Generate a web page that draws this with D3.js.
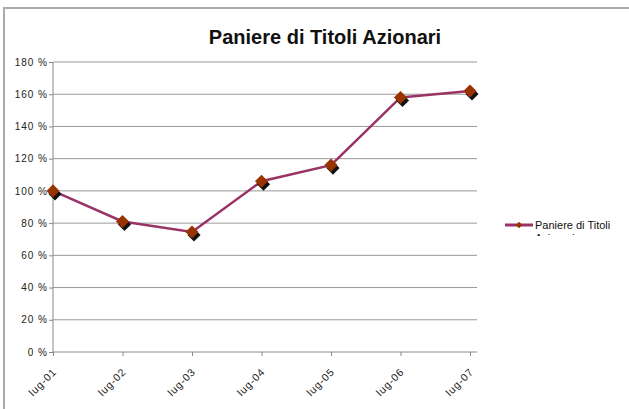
<!DOCTYPE html>
<html>
<head>
<meta charset="utf-8">
<script src="https://cdn.jsdelivr.net/npm/d3@7"></script>
<style>
  body { margin: 0; background: #fff; }
  svg { display: block; font-family: "Liberation Sans", Arial, sans-serif; }
</style>
</head>
<body>
<div id="chart"></div>
<script>
// Data
const categories = ["lug-01", "lug-02", "lug-03", "lug-04", "lug-05", "lug-06", "lug-07"];
const values = [100, 81, 74.5, 106, 116, 158, 162];
const yTicks = [0, 20, 40, 60, 80, 100, 120, 140, 160, 180];
const seriesName = "Paniere di Titoli Azionari";
const chartTitle = "Paniere di Titoli Azionari";

const width = 629, height = 409;
const margin = {top: 62, right: 152, bottom: 57, left: 53};

const svg = d3.select("#chart").append("svg")
    .attr("width", width)
    .attr("height", height);

// chart area border
svg.append("rect")
    .attr("x", 4).attr("y", 8)
    .attr("width", 640).attr("height", 420)
    .attr("fill", "#fff")
    .attr("stroke", "#aaa")
    .attr("stroke-width", 2);

const plotW = 470 - margin.left;
const plotH = 352 - margin.top;

const g = svg.append("g")
    .attr("transform", `translate(${margin.left},${margin.top})`);

const x = d3.scalePoint()
    .domain(categories)
    .range([0, plotW]);

const y = d3.scaleLinear()
    .domain([0, 180])
    .range([plotH, 0]);

// gridlines
g.append("g")
    .selectAll("line")
    .data(yTicks.filter(d => d > 0))
    .enter()
    .append("line")
    .attr("x1", 0)
    .attr("x2", plotW + 7)
    .attr("y1", d => y(d))
    .attr("y2", d => y(d))
    .attr("stroke", "#999")
    .attr("stroke-width", 1);

// y axis
const yAxis = g.append("g")
    .call(d3.axisLeft(y).tickValues(yTicks).tickSize(4).tickFormat(d => d + " %"));
yAxis.select(".domain").attr("stroke", "#888").attr("d", `M0,${y(180)}V${plotH}`);
yAxis.selectAll(".tick line").attr("stroke", "#888");
yAxis.selectAll("text")
    .attr("x", -5)
    .style("font-size", "10px")
    .style("letter-spacing", "1px")
    .attr("fill", "#222");

// x axis
const xAxis = g.append("g")
    .attr("transform", `translate(0,${plotH})`)
    .call(d3.axisBottom(x).tickSize(4));
xAxis.select(".domain").attr("stroke", "#888").attr("d", `M0,0H${plotW + 7}`);
xAxis.selectAll(".tick line").attr("stroke", "#888");
xAxis.selectAll("text")
    .style("font-size", "10.5px")
    .style("letter-spacing", "0.8px")
    .attr("fill", "#222")
    .attr("text-anchor", "end")
    .attr("dy", "0.35em")
    .attr("transform", "translate(1,18) rotate(-45)")
    .attr("x", 0).attr("y", 0);

// series line
const line = d3.line()
    .x((d, i) => x(categories[i]))
    .y(d => y(d));

g.append("path")
    .datum(values)
    .attr("d", line)
    .attr("fill", "none")
    .attr("stroke", "#993366")
    .attr("stroke-width", 2.5);

// markers with shadow
const diamond = d3.symbol().type(d3.symbolDiamond2).size(110);
g.append("g")
    .selectAll("path")
    .data(values)
    .enter()
    .append("path")
    .attr("d", diamond)
    .attr("transform", (d, i) => `translate(${x(categories[i]) + 2},${y(d) + 3})`)
    .attr("fill", "#111");
g.append("g")
    .selectAll("path")
    .data(values)
    .enter()
    .append("path")
    .attr("d", diamond)
    .attr("transform", (d, i) => `translate(${x(categories[i])},${y(d)})`)
    .attr("fill", "#993300");

// title
svg.append("text")
    .attr("x", 325)
    .attr("y", 44)
    .attr("text-anchor", "middle")
    .style("font-size", "20px")
    .style("font-weight", "bold")
    .attr("fill", "#111")
    .text(chartTitle);

// legend
const leg = svg.append("g").attr("transform", "translate(505,225)");
leg.append("line")
    .attr("x1", 0).attr("x2", 28)
    .attr("stroke", "#993366")
    .attr("stroke-width", 3);
leg.append("path")
    .attr("d", d3.symbol().type(d3.symbolDiamond2).size(28))
    .attr("transform", "translate(14,0)")
    .attr("fill", "#993300");
svg.append("clipPath").attr("id", "legclip")
    .append("rect").attr("x", 530).attr("y", 212).attr("width", 100).attr("height", 24);
const words = seriesName.split(" ");
svg.append("text")
    .attr("clip-path", "url(#legclip)")
    .style("font-size", "11px")
    .attr("fill", "#111")
    .selectAll("tspan")
    .data([words.slice(0, 3).join(" "), words.slice(3).join(" ")])
    .enter()
    .append("tspan")
    .attr("x", 535)
    .attr("y", (d, i) => 229 + i * 13)
    .text(d => d);
</script>
</body>
</html>
